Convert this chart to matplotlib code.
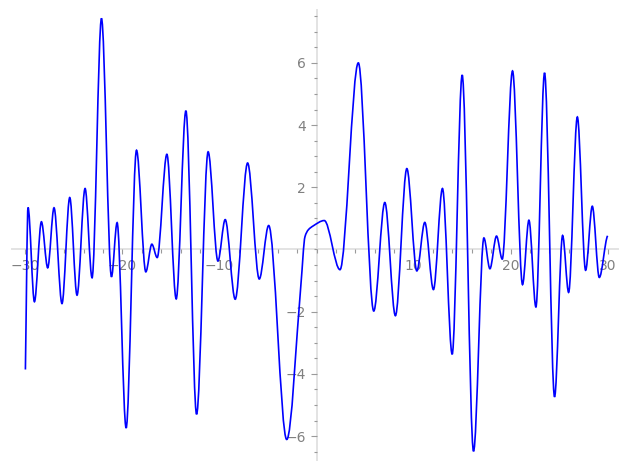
import numpy as np
import matplotlib
matplotlib.use('Agg')
import matplotlib.pyplot as plt
from matplotlib.path import Path
from matplotlib.patches import PathPatch

# Turning points (plus a few on the shoulder near x=0)
x_pts = [-30.0, -29.73, -29.07, -28.35, -27.70, -27.05, -26.23, -25.43,
         -24.68, -23.85, -23.13, -22.16, -21.13, -20.55, -19.62, -18.55,
         -17.59, -16.97, -16.42, -15.42, -14.46, -13.46, -12.36, -11.17,
         -10.16, -9.41, -8.38, -7.10, -5.90, -4.93, -3.07, -1.60,
         -1.19, -0.85, -0.33, 0.80, 2.42, 4.31, 5.90, 7.04,
         8.13, 9.31, 10.34, 11.16, 12.05, 12.98, 13.98, 15.01,
         16.18, 17.25, 17.87, 18.55, 19.14, 20.20, 21.23, 21.89,
         22.61, 23.50, 24.53, 25.36, 25.98, 26.88, 27.73, 28.42,
         29.14, 30.0]
y_pts = [-3.86, 1.35, -1.68, 0.89, -0.59, 1.34, -1.74, 1.67,
         -1.47, 1.96, -0.91, 7.43, -0.88, 0.86, -5.74, 3.19,
         -0.72, 0.17, -0.26, 3.06, -1.59, 4.46, -5.30, 3.14,
         -0.37, 0.96, -1.60, 2.78, -0.95, 0.77, -6.11, -1.10,
         0.41, 0.63, 0.76, 0.93, -0.65, 6.00, -1.98, 1.51,
         -2.13, 2.60, -0.69, 0.87, -1.29, 1.96, -3.37, 5.61,
         -6.49, 0.37, -0.62, 0.43, -0.31, 5.74, -1.13, 0.94,
         -1.85, 5.68, -4.74, 0.45, -1.38, 4.26, -0.67, 1.39,
         -0.90, 0.44]

x_labels = [-30, -20, -10, 10, 20, 30]
y_labels = [-6, -4, -2, 2, 4, 6]

axis_gray = '#e3e3e3'
tick_gray = '#9a9a9a'
text_gray = '#808080'


def smooth_path(xs, ys):
    # shape preserving cubic through the read points, drawn as bezier pieces
    xs = np.asarray(xs, float)
    ys = np.asarray(ys, float)
    h = np.diff(xs)
    d = np.diff(ys) / h
    m = np.zeros_like(xs)
    for i in range(1, len(xs) - 1):
        if d[i - 1] * d[i] > 0:
            w1 = 2 * h[i] + h[i - 1]
            w2 = h[i] + 2 * h[i - 1]
            m[i] = (w1 + w2) / (w1 / d[i - 1] + w2 / d[i])
    m[0] = d[0]
    m[-1] = 0.3 * d[-1]
    verts = [(xs[0], ys[0])]
    codes = [Path.MOVETO]
    for i in range(len(h)):
        verts += [(xs[i] + h[i] / 3, ys[i] + m[i] * h[i] / 3),
                  (xs[i + 1] - h[i] / 3, ys[i + 1] - m[i + 1] * h[i] / 3),
                  (xs[i + 1], ys[i + 1])]
        codes += [Path.CURVE4] * 3
    return Path(verts, codes)


fig = plt.figure(figsize=(6.27, 4.70), dpi=100)
ax = fig.add_axes([12.3 / 627, 10 / 470, 606 / 627, 450 / 470])

ax.add_patch(PathPatch(smooth_path(x_pts, y_pts), facecolor='none',
                       edgecolor='#0000ff', linewidth=1.2, zorder=3))

ax.set_xlim(-31.35, 31.1)
ax.set_ylim(-6.77, 7.70)

# axes crossing at the origin
for side in ['top', 'right']:
    ax.spines[side].set_visible(False)
for side in ['left', 'bottom']:
    ax.spines[side].set_position(('data', 0))
    ax.spines[side].set_color(axis_gray)
    ax.spines[side].set_linewidth(1.4)
    ax.spines[side].set_zorder(1)

ax.set_xticks(x_labels)
ax.set_xticks(np.arange(-30, 31, 2), minor=True)
ax.set_yticks(y_labels)
ax.set_yticks(np.arange(-6.5, 7.6, 0.5), minor=True)

ax.tick_params(which='both', direction='out', color=tick_gray,
               labelcolor=text_gray, labelsize=10, width=0.8)
ax.tick_params(axis='x', which='major', length=3.5, pad=3.5)
ax.tick_params(axis='x', which='minor', length=3)
ax.tick_params(axis='y', which='major', length=4.5, pad=3)
ax.tick_params(axis='y', which='minor', length=2.5)

ax.patch.set_visible(False)
fig.savefig('out.png', dpi=100)
